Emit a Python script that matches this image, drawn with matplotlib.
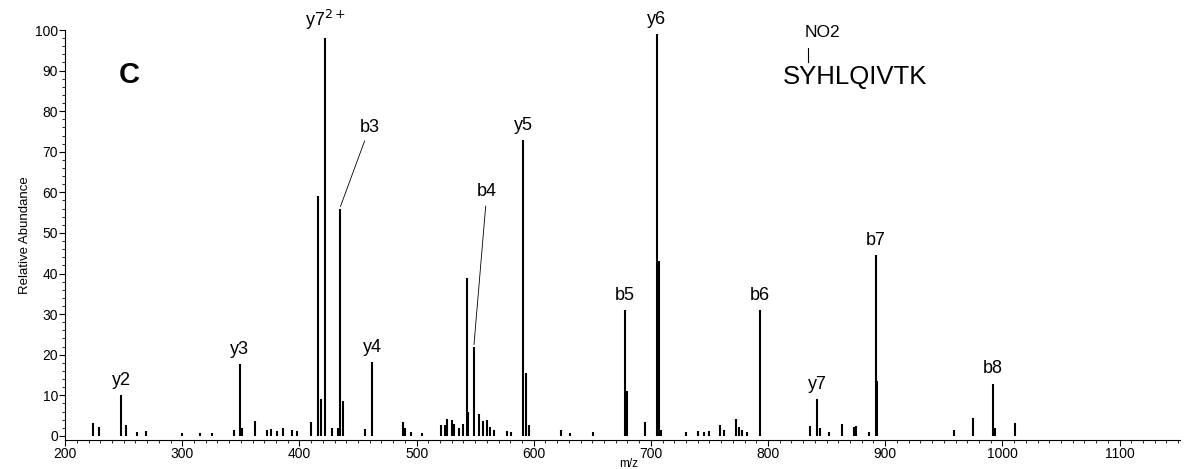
import matplotlib.pyplot as plt
from matplotlib.ticker import MultipleLocator

plt.rcParams['font.family'] = ['Liberation Sans', 'DejaVu Sans']

# peak list (m/z, relative abundance %)
mz = [224, 229, 248, 252, 261, 269, 300, 315, 325, 344, 349, 351, 362, 372, 376, 381,
      386, 394, 398, 410, 416, 418, 422, 428, 433, 435, 437, 456, 462, 488, 490, 495,
      505, 521, 524, 526, 530, 532, 536, 540, 543, 544, 549, 553, 557, 560, 563, 566,
      577, 581, 591, 593, 596, 623, 631, 651, 678, 680, 695, 705, 707, 709, 730, 740,
      745, 750, 759, 762, 773, 775, 778, 782, 793, 836, 842, 844, 852, 863, 873, 875,
      886, 892, 893, 959, 975, 992, 994, 1011]
intensity = [3.1, 2.3, 10.0, 2.6, 1.0, 1.2, 0.6, 0.8, 0.7, 1.4, 17.6, 2.0, 3.6, 1.5, 1.8, 1.3,
             2.0, 1.5, 1.2, 3.3, 59.0, 9.0, 98.0, 2.0, 2.0, 56.0, 8.6, 1.8, 18.2, 3.4, 2.0, 1.0,
             0.8, 2.6, 2.7, 4.2, 4.0, 2.8, 2.0, 2.8, 39.0, 6.0, 22.0, 5.5, 3.6, 4.0, 2.3, 1.5,
             1.3, 1.0, 73.0, 15.6, 2.6, 1.5, 0.8, 1.0, 31.0, 11.0, 3.4, 99.0, 43.0, 1.5, 1.0, 1.2,
             1.0, 1.3, 2.6, 1.5, 4.2, 2.3, 1.5, 1.0, 31.0, 2.4, 9.0, 2.0, 1.0, 2.8, 2.3, 2.5,
             1.0, 44.5, 13.5, 1.4, 4.5, 12.9, 2.0, 3.1]

# labelled fragment ions: name, m/z of peak, abundance
ion_names = ['y2', 'y3', 'y4', 'y5', 'y6', 'b5', 'b6', 'y7', 'b7', 'b8', 'y7$^{2+}$']
ion_mz = [248, 349, 462, 591, 705, 678, 793, 842, 892, 992, 422]
ion_int = [10.0, 17.6, 18.2, 73.0, 99.0, 31.0, 31.0, 9.0, 44.5, 12.9, 98.0]

# ions labelled with a leader line: name, peak m/z, abundance, label position
lead_names = ['b3', 'b4']
lead_mz = [435, 549]
lead_int = [56.0, 22.0]
lead_text_x = [460, 560]
lead_text_y = [74, 58]

fig = plt.figure(figsize=(11.84, 4.69), dpi=100)
ax = fig.add_axes([0.055, 0.062, 0.942, 0.874])

ax.vlines(mz, 0, intensity, colors='black', linewidth=1.5)

for name, x, h in zip(ion_names, ion_mz, ion_int):
    ax.text(x, h + 1.5, name, ha='center', va='bottom', fontsize=13)

for name, x, h, tx, ty in zip(lead_names, lead_mz, lead_int, lead_text_x, lead_text_y):
    ax.annotate(name, xy=(x, h + 0.5), xytext=(tx, ty), ha='center', va='bottom', fontsize=13,
                arrowprops=dict(arrowstyle='-', color='black', lw=0.6,
                                shrinkA=2, shrinkB=0))

ax.text(255, 89, 'C', fontsize=21, fontweight='bold', ha='center', va='center')
ax.text(846, 99.5, 'NO2', fontsize=12.5, ha='center', va='center')
ax.plot([834, 834], [95.5, 92], color='black', lw=0.8)
ax.text(813, 88.5, 'SYHLQIVTK', fontsize=18.5, ha='left', va='center')

ax.set_xlim(200, 1152)
ax.set_ylim(-1, 100)
ax.xaxis.set_major_locator(MultipleLocator(100))
ax.xaxis.set_minor_locator(MultipleLocator(10))
ax.yaxis.set_major_locator(MultipleLocator(10))
ax.yaxis.set_minor_locator(MultipleLocator(2))
ax.tick_params(axis='both', which='major', labelsize=10, length=4, width=0.8, pad=1)
ax.tick_params(axis='both', which='minor', length=2, width=0.6)
ax.spines['top'].set_visible(False)
ax.spines['right'].set_visible(False)
ax.set_ylabel('Relative Abundance', fontsize=9.5, labelpad=3)
ax.set_xlabel('m/z', fontsize=8.5, labelpad=0)
ax.xaxis.set_label_coords(0.505, -0.045)

fig.savefig('out.png', dpi=100)
